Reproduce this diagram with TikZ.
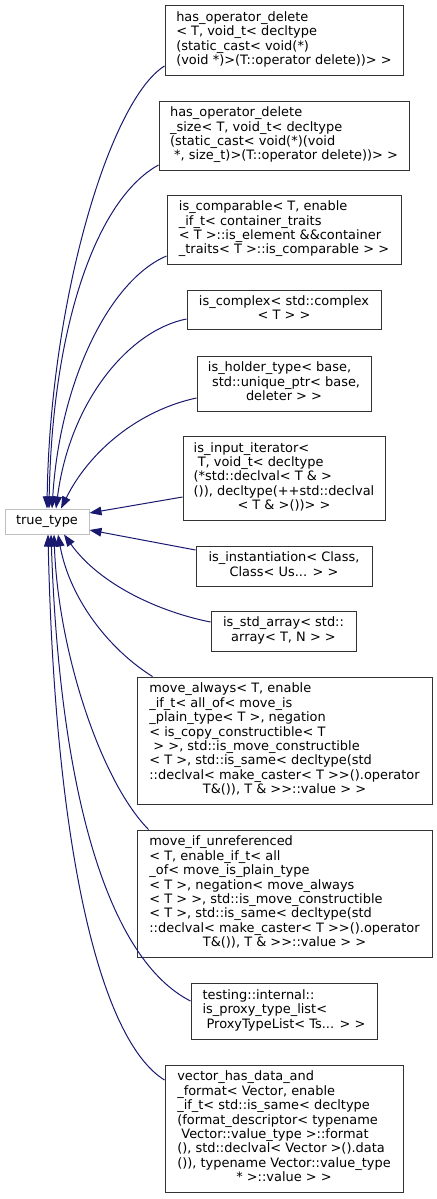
\documentclass[tikz,border=0pt]{standalone}
\usepackage{fontspec}
\newfontfamily\dvsans{DejaVu Sans}
\usepackage{tikz}
\usetikzlibrary{arrows.meta,calc}

\definecolor{edgeblue}{HTML}{191970}
\newcommand\tlines[1]{\begin{tabular}{@{}l@{}}#1\end{tabular}}
\newcommand\tlast[1]{\multicolumn{1}{@{}c@{}}{#1}}

\tikzset{
  cls/.style={draw=black!80,line width=0.75pt,fill=white,inner sep=0pt,
    font=\dvsans\fontsize{9.7}{10.8}\selectfont},
  base/.style={cls,draw=black!25},
  edge/.style={draw=edgeblue,line width=0.75pt,{Triangle[length=9pt,width=6.5pt]}-}
}

\begin{document}
\begin{tikzpicture}[x=0.75pt,y=-0.75pt]
  \useasboundingbox (0,0) rectangle (436,1199);
  \node[base,minimum width=63pt,minimum height=18.75pt] (tt) at (47,521.5) {true\_type};

  \node[cls,minimum width=178.5pt,minimum height=52.5pt] (hod) at (284,40)
    {\tlines{has\_operator\_delete\\ < T, void\_t< decltype\\ (static\_cast< void(*)\\
     \tlast{(void *)>(T::operator delete))> >}}};
  \node[cls,minimum width=187.5pt,minimum height=51.75pt] (hods) at (284,135.5)
    {\tlines{has\_operator\_delete\\ \_size< T, void\_t< decltype\\ (static\_cast< void(*)(void\\
     \tlast{\ *, size\_t)>(T::operator delete))> >}}};
  \node[cls,minimum width=175.5pt,minimum height=51.75pt] (iscmp) at (284,229.5)
    {\tlines{is\_comparable< T, enable\\ \_if\_t< container\_traits\\ < T >::is\_element \&\&container\\
     \tlast{\_traits< T >::is\_comparable > >}}};
  \node[cls,minimum width=145.5pt,minimum height=29.25pt] (iscx) at (284,309.5)
    {\tlines{is\_complex< std::complex\\ \tlast{< T > >}}};
  \node[cls,minimum width=130.5pt,minimum height=41.25pt] (ishold) at (284,383.5)
    {\tlines{is\_holder\_type< base,\\ \ std::unique\_ptr< base,\\ \tlast{deleter > >}}};
  \node[cls,minimum width=151.5pt,minimum height=63pt] (isinp) at (284,478)
    {\tlines{is\_input\_iterator<\\ \ T, void\_t< decltype\\ (*std::declval< T \& >\\
     ()), decltype(++std::declval\\ \tlast{< T \& >())> >}}};
  \node[cls,minimum width=132pt,minimum height=30pt] (isinst) at (284,566)
    {\tlines{is\_instantiation< Class,\\ \tlast{Class< Us... > >}}};
  \node[cls,minimum width=108.75pt,minimum height=30pt] (isarr) at (283.5,631)
    {\tlines{is\_std\_array< std::\\ \tlast{array< T, N > >}}};
  \node[cls,minimum width=221.25pt,minimum height=95.25pt] (mvalw) at (284.5,740.5)
    {\tlines{move\_always< T, enable\\ \_if\_t< all\_of< move\_is\\ \_plain\_type< T >, negation\\
     < is\_copy\_constructible< T\\ \ > >, std::is\_move\_constructible\\
     < T >, std::is\_same< decltype(std\\ ::declval< make\_caster< T >{}>().operator\\
     \tlast{T\&()), T \& >{}>::value > >}}};
  \node[cls,minimum width=221.25pt,minimum height=95.25pt] (mvif) at (284.5,893.5)
    {\tlines{move\_if\_unreferenced\\ < T, enable\_if\_t< all\\ \_of< move\_is\_plain\_type\\
     < T >, negation< move\_always\\ < T > >, std::is\_move\_constructible\\
     < T >, std::is\_same< decltype(std\\ ::declval< make\_caster< T >{}>().operator\\
     \tlast{T\&()), T \& >{}>::value > >}}};
  \node[cls,minimum width=139.5pt,minimum height=42pt] (tst) at (284,1011)
    {\tlines{testing::internal::\\ is\_proxy\_type\_list<\\ \tlast{\ ProxyTypeList< Ts... > >}}};
  \node[cls,minimum width=178.5pt,minimum height=95.25pt] (vec) at (284,1128.5)
    {\tlines{vector\_has\_data\_and\\ \_format< Vector, enable\\ \_if\_t< std::is\_same< decltype\\
     (format\_descriptor< typename\\ \ Vector::value\_type >::format\\
     (), std::declval< Vector >().data\\ ()), typename Vector::value\_type\\
     \tlast{* >::value > >}}};

  % inheritance edges, all into true_type
  \draw[edge] (tt.north) .. controls (50,300) and (110,100) .. ($(hod.west)+(0,26)$);
  \draw[edge] ($(tt.north)+(2,0)$) .. controls (52,330) and (95,200) .. ($(hods.west)+(0,29.5)$);
  \draw[edge] ($(tt.north)+(5,0)$) .. controls (60,380) and (110,280) .. ($(iscmp.west)+(0,26.5)$);
  \draw[edge] ($(tt.north)+(9,0)$) .. controls (70,400) and (130,330) .. ($(iscx.west)+(0,9.5)$);
  \draw[edge] ($(tt.north)+(14,0)$) .. controls (90,450) and (140,410) .. ($(ishold.west)+(0,14.5)$);
  \draw[edge] ($(tt.east)+(0,-8.5)$) -- ($(isinp.west)+(0,19)$);
  \draw[edge] ($(tt.east)+(0,8.5)$) -- ($(isinst.west)+(0,-16)$);
  \draw[edge] ($(tt.south)+(17,0)$) .. controls (100,585) and (160,612) .. ($(isarr.west)+(0,-9)$);
  \draw[edge] ($(tt.south)+(11,0)$) .. controls (70,600) and (110,650) .. ($(mvalw.north west)+(16,0)$);
  \draw[edge] ($(tt.south)+(7,0)$) .. controls (58,650) and (100,780) .. ($(mvif.north west)+(12,0)$);
  \draw[edge] ($(tt.south)+(4,0)$) .. controls (60,800) and (110,960) .. ($(tst.west)+(0,-10)$);
  \draw[edge] ($(tt.south)+(1,0)$) .. controls (55,850) and (100,1040) .. ($(vec.west)+(0,-48.5)$);
\end{tikzpicture}
\end{document}
